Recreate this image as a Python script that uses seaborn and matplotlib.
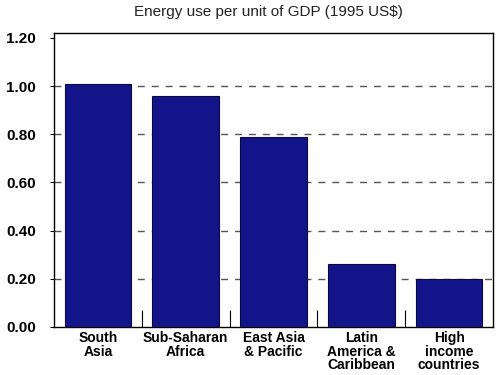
import matplotlib
matplotlib.use("Agg")
import matplotlib.pyplot as plt
import seaborn as sns
import pandas as pd

regions = ["South\nAsia", "Sub-Saharan\nAfrica", "East Asia\n& Pacific",
           "Latin\nAmerica &\nCaribbean", "High\nincome\ncountries"]
energy = [1.01, 0.96, 0.79, 0.26, 0.20]
yticks = [0.0, 0.2, 0.4, 0.6, 0.8, 1.0, 1.2]

sns.set_style("white")
plt.rcParams["font.family"] = ["Liberation Sans", "DejaVu Sans"]

df = pd.DataFrame({"region": regions, "energy": energy})

fig = plt.figure(figsize=(5, 3.75), dpi=100)
ax = fig.add_axes([0.108, 0.128, 0.878, 0.784])

sns.barplot(data=df, x="region", y="energy", color="#14148a", saturation=1,
            width=0.76, edgecolor="#0a0a40", linewidth=0.8, ax=ax, zorder=3)

ax.set_ylim(0, 1.22)
ax.set_xlim(-0.5, 4.5)
ax.set_yticks(yticks)
ax.set_yticklabels([f"{v:.2f}" for v in yticks], fontweight="bold", fontsize=11)
ax.set_xticks(range(len(regions)))
ax.set_xticklabels(regions, fontweight="bold", fontsize=10, linespacing=0.95)
ax.tick_params(axis="x", length=0, pad=3, labelcolor="black")
ax.tick_params(axis="y", length=3, width=0.8, pad=10, direction="out", left=True,
               labelcolor="black", color="black")

# small inward ticks between categories
ax.set_xticks([0.5, 1.5, 2.5, 3.5], minor=True)
ax.tick_params(axis="x", which="minor", length=12, width=0.8, direction="in",
               bottom=True, color="black")

for v in yticks[1:-1]:
    ax.axhline(v, color="#555555", linestyle=(0, (5, 5)), linewidth=1, zorder=1)

for s in ax.spines.values():
    s.set_visible(True)
    s.set_color("black")
    s.set_linewidth(1)

ax.set_xlabel("")
ax.set_ylabel("")
fig.text(0.537, 0.967, "Energy use per unit of GDP (1995 US$)", ha="center",
         va="center", fontsize=11, color="#222222")

fig.savefig("out.png", dpi=100)
